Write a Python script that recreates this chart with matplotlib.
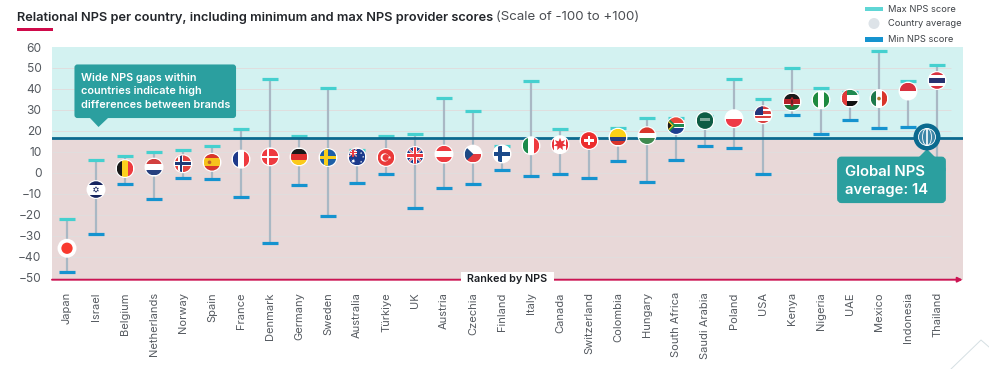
import matplotlib
matplotlib.use('Agg')
import matplotlib.pyplot as plt
import numpy as np
from matplotlib.patches import Rectangle, Ellipse, Polygon, FancyBboxPatch, Circle
from matplotlib.transforms import Affine2D

plt.rcParams['font.family'] = ['Inter', 'DejaVu Sans']

countries = ['Japan', 'Israel', 'Belgium', 'Netherlands', 'Norway', 'Spain', 'France', 'Denmark',
             'Germany', 'Sweden', 'Australia', 'Türkiye', 'UK', 'Austria', 'Czechia', 'Finland',
             'Italy', 'Canada', 'Switzerland', 'Colombia', 'Hungary', 'South Africa', 'Saudi Arabia',
             'Poland', 'USA', 'Kenya', 'Nigeria', 'UAE', 'Mexico', 'Indonesia', 'Thailand']
max_nps = [-22, 6.2, 8, 9.9, 11, 12.6, 21, 44.7, 17.4, 40.4, 11, 17.7, 18.3, 35.7, 29.3, 12.9,
           44, 21, 16, 21.2, 26, 26.3, 27, 44.5, 35, 50, 40.4, 38.4, 58.2, 44, 51.5]
avg_nps = [-36, -8, 2, 2.7, 4.3, 5, 6.5, 7.6, 7.6, 7.3, 7.6, 7.3, 8.3, 8.9, 8.9, 9,
           12.9, 13.4, 15.4, 17, 17.7, 22.5, 24.9, 25.8, 27.7, 33.8, 34.8, 35.6, 35.4, 39, 44]
min_nps = [-47.5, -29.3, -5.5, -12.5, -2.5, -2.9, -11.6, -33.5, -5.9, -20.8, -4.8, -0.8, -16.8,
           -7.1, -5.5, 1.3, -1.6, -0.5, -2.5, 5.6, -4.5, 6.2, 12.9, 12, -0.5, 27.4, 18.7, 25,
           21.4, 22, 2]
global_line = 16.4
y_ticks = [-50, -40, -30, -20, -10, 0, 10, 20, 30, 40, 50, 60]

RED, WHITE, BLUE = '#ee3a3f', '#ffffff', '#1d3f7f'
NAVY, GREEN, YELLOW = '#16245f', '#1e9145', '#fbd11e'
TEAL = '#2b9f9f'

W, H = 989, 369
fig = plt.figure(figsize=(W / 100, H / 100), dpi=100)
left, right, top, bottom = 52, 962.7, 47, 279.7
ax = fig.add_axes([left / W, 1 - bottom / H, (right - left) / W, (bottom - top) / H])
ax.set_xlim(-15 / 29, (right - 67) / 29)
ax.set_ylim(-51, 60)
px = Affine2D().scale(1 / W, -1 / H).translate(0, 1) + fig.transFigure

# background bands and grid
ax.axhspan(global_line, 60, color='#d3f2f1', lw=0, zorder=0)
ax.axhspan(-51, global_line, color='#e8d8d8', lw=0, zorder=0)
ax.hlines(y_ticks[:-1], -0.52, 30.5, color='#e0dede', lw=0.7, zorder=1)

x = np.arange(len(countries))
ax.vlines(x, min_nps, max_nps, color='#a9b8c4', lw=1.6, zorder=2)
ax.hlines(max_nps, x - 0.26, x + 0.26, color='#45d0cf', lw=2.3, zorder=3)
ax.hlines(min_nps, x - 0.26, x + 0.26, color='#1593cf', lw=2.3, zorder=3)
ax.axhline(global_line, color='#0b6a8f', lw=2, zorder=4)


def hb(colors, weights=None):
    w = np.array(weights if weights else [1] * len(colors), float)
    e = 1 - 2 * np.cumsum(np.r_[0, w]) / w.sum()
    return [Rectangle((-1, e[i + 1]), 2, e[i] - e[i + 1], fc=c) for i, c in enumerate(colors)]


def vb(colors, weights=None):
    w = np.array(weights if weights else [1] * len(colors), float)
    e = -1 + 2 * np.cumsum(np.r_[0, w]) / w.sum()
    return [Rectangle((e[i], -1), e[i + 1] - e[i], 2, fc=c) for i, c in enumerate(colors)]


def bg(c):
    return [Rectangle((-1, -1), 2, 2, fc=c)]


def cross(c, t, cx=-0.25):
    return [Rectangle((cx - t, -1), 2 * t, 2, fc=c), Rectangle((-1, -t), 2, 2 * t, fc=c)]


def poly(c, *pts):
    return [Polygon(pts, closed=True, fc=c)]


def dot(c, cx, cy, r):
    return [Circle((cx, cy), r, fc=c)]


def star(c, cx, cy, r, n=5, inner=0.42):
    ang = np.pi / 2 + np.arange(2 * n) * np.pi / n
    rad = np.where(np.arange(2 * n) % 2 == 0, r, r * inner)
    return poly(c, *zip(cx + rad * np.cos(ang), cy + rad * np.sin(ang)))


def union(cx=0, cy=0, s=1):
    def p(*pts):
        return [(cx + s * a, cy + s * b) for a, b in pts]
    out = [Rectangle((cx - s, cy - s), 2 * s, 2 * s, fc='#1a3c8a')]
    out += poly(WHITE, *p((-1, -0.8), (-0.8, -1), (1, 0.8), (0.8, 1)))
    out += poly(WHITE, *p((-1, 0.8), (-0.8, 1), (1, -0.8), (0.8, -1)))
    out += poly(RED, *p((-1, -0.92), (-0.92, -1), (1, 0.92), (0.92, 1)))
    out += poly(RED, *p((-1, 0.92), (-0.92, 1), (1, -0.92), (0.92, -1)))
    out += [Rectangle((cx - 0.3 * s, cy - s), 0.6 * s, 2 * s, fc=WHITE),
            Rectangle((cx - s, cy - 0.3 * s), 2 * s, 0.6 * s, fc=WHITE),
            Rectangle((cx - 0.17 * s, cy - s), 0.34 * s, 2 * s, fc=RED),
            Rectangle((cx - s, cy - 0.17 * s), 2 * s, 0.34 * s, fc=RED)]
    return out


flags = {
    'Japan': bg(WHITE) + dot('#f93a2f', 0, 0, 0.68),
    'Israel': bg(WHITE) + hb([NAVY, WHITE, NAVY], [1, 3, 1])
              + poly(NAVY, (0, 0.4), (0.35, -0.2), (-0.35, -0.2)) + poly(NAVY, (0, -0.4), (0.35, 0.2), (-0.35, 0.2))
              + dot(WHITE, 0, 0, 0.17),
    'Belgium': vb(['#1a1a1a', YELLOW, RED]),
    'Netherlands': hb(['#d2403f', WHITE, '#27407f']),
    'Norway': bg('#e4433f') + cross(WHITE, 0.3) + cross('#1f3a78', 0.16),
    'Spain': hb(['#d8352b', '#f6c21c', '#d8352b'], [1, 2, 1]) + dot('#c0622b', -0.3, 0, 0.22),
    'France': vb(['#1e3a8a', WHITE, RED]),
    'Denmark': bg(RED) + cross(WHITE, 0.16),
    'Germany': hb(['#1a1a1a', '#de2f2f', '#fbc91a']),
    'Sweden': bg('#1d5fa6') + cross('#f8cf1a', 0.2),
    'Australia': bg('#1b3a8c') + union(-0.5, 0.5, 0.5) + star(WHITE, -0.45, -0.5, 0.28, 7)
                 + star(WHITE, 0.5, 0.45, 0.14, 7) + star(WHITE, 0.5, -0.6, 0.14, 7) + star(WHITE, 0.75, 0, 0.14, 7),
    'Türkiye': bg('#ea3a3a') + dot(WHITE, -0.15, 0, 0.5) + dot('#ea3a3a', -0.02, 0, 0.4) + star(WHITE, 0.42, 0, 0.22),
    'UK': union(),
    'Austria': hb([RED, WHITE, RED]),
    'Czechia': hb([WHITE, '#e43b3f']) + poly('#1d4a85', (-1, 1), (0.05, 0), (-1, -1)),
    'Finland': bg(WHITE) + cross('#1b4a8a', 0.26),
    'Italy': vb(['#1b8a4a', WHITE, RED]),
    'Canada': vb(['#e8333a', WHITE, '#e8333a'], [0.55, 2.9, 0.55]) + star('#e8333a', 0, 0.05, 0.78, 7, 0.5)
              + [Rectangle((-0.05, -0.75), 0.1, 0.5, fc='#e8333a')],
    'Switzerland': bg('#ec2d2d') + [Rectangle((-0.17, -0.55), 0.34, 1.1, fc=WHITE), Rectangle((-0.55, -0.17), 1.1, 0.34, fc=WHITE)],
    'Colombia': hb(['#fcd116', '#27407f', '#d8352b'], [2, 1, 1]),
    'Hungary': hb(['#d8352b', WHITE, '#3f8a4f']),
    'South Africa': hb(['#e8473a', WHITE, '#1d3f8f']) + [Rectangle((-1, -0.3), 2, 0.6, fc=WHITE)]
                    + [Rectangle((-1, -0.18), 2, 0.36, fc='#1f8a50')] + poly('#1f8a50', (-1, 1), (0.0, 0), (-1, -1))
                    + poly(YELLOW, (-1, 0.7), (-0.3, 0), (-1, -0.7)) + poly('#1a1a1a', (-1, 0.5), (-0.5, 0), (-1, -0.5)),
    'Saudi Arabia': bg('#0e5c44') + [Rectangle((-0.55, 0.0), 1.1, 0.3, fc='#7fa99a'), Rectangle((-0.45, -0.35), 0.9, 0.08, fc='#a9c6bb')],
    'Poland': hb([WHITE, '#ee3a47']),
    'USA': hb(['#d8403f', WHITE] * 3 + ['#d8403f']) + [Rectangle((-1, -0.05), 1.05, 1.05, fc='#23357a')],
    'Kenya': hb(['#1a1a1a', WHITE, '#b5222a', WHITE, '#1e7a3c'], [5, 0.7, 5, 0.7, 5])
             + [Ellipse((0, 0), 0.42, 1.15, fc='#b5222a')] + [Ellipse((0, 0), 0.12, 0.7, fc='#1a1a1a')],
    'Nigeria': vb(['#1f8a3f', WHITE, '#1f8a3f']),
    'UAE': hb(['#1f8a50', WHITE, '#111111']) + [Rectangle((-1, -1), 0.6, 2, fc='#e23a3a')],
    'Mexico': vb(['#1c7a4c', WHITE, '#d8352b']) + dot('#a9762f', 0, 0, 0.22),
    'Indonesia': hb(['#d8323f', WHITE]),
    'Thailand': hb(['#d8323f', WHITE, '#27316f', WHITE, '#d8323f'], [1, 1, 2, 1, 1]),
}

# flags as round markers sized in pixels, placed from the data values
ux, uy = 8.3 / 29, 8.3 * 111 / (bottom - top)
for i, name in enumerate(countries):
    t = Affine2D().scale(ux, uy).translate(x[i], avg_nps[i]) + ax.transData
    ring = Circle((0, 0), 1.14, fc=WHITE, ec='none', transform=t, zorder=5)
    ax.add_patch(ring)
    clip = Circle((0, 0), 1, fc='none', ec='none', transform=t, zorder=6)
    ax.add_patch(clip)
    for p in flags[name]:
        p.set_transform(t)
        p.set_edgecolor('none')
        p.set_zorder(6)
        ax.add_patch(p)
        p.set_clip_path(clip)

ax.set_yticks(y_ticks)
ax.set_xticks(x)
ax.set_xticklabels(countries, rotation=90, color='#555a60', va='top', ha='center')
ax.tick_params(axis='y', length=0, labelsize=8.6, labelcolor='#555a60', pad=7.5)
ax.tick_params(axis='x', length=0, labelsize=8.0, labelcolor='#555a60', pad=9)
for s in ax.spines.values():
    s.set_visible(False)
ax.patch.set_visible(False)


def fig_add(p):
    p.set_transform(px)
    p.set_clip_on(False)
    fig.add_artist(p)
    return p


def ftext(xp, yp, s, **kw):
    kw.setdefault('va', 'center')
    kw.setdefault('ha', 'left')
    return fig.text(xp / W, 1 - yp / H, s, **kw)


# bottom axis line with the label sitting on it
ax.annotate('', xy=(right, bottom), xytext=(left, bottom), xycoords=px, textcoords=px,
            arrowprops=dict(arrowstyle='-|>', color='#cc1452', lw=1.4, mutation_scale=7, shrinkA=0, shrinkB=0),
            zorder=7, annotation_clip=False)
fig_add(Rectangle((461, 272), 93, 14, fc='white', ec='none', zorder=8))
ftext(507.5, 279.5, 'Ranked by NPS', fontsize=7.8, fontweight='semibold', color='#1c1f24', ha='center', zorder=9)

# title
ftext(17, 17.5, 'Relational NPS per country, including minimum and max NPS provider scores',
      fontsize=9.22, fontweight='semibold', color='#23262b')
ftext(496, 17.5, '(Scale of -100 to +100)', fontsize=9.55, color='#4a4d52')
fig_add(Rectangle((17, 28), 36, 3, fc='#cf0a4a', ec='none'))

# legend
fig_add(Rectangle((865, 6.7), 18, 4.6, fc='#5fd6d5', ec='none'))
fig_add(Circle((874, 23.5), 5.5, fc='#dde3e8', ec='none'))
fig_add(Rectangle((865, 37), 18, 4.6, fc='#1593cf', ec='none'))
for yy, s in [(9.5, 'Max NPS score'), (23.5, 'Country average'), (39.5, 'Min NPS score')]:
    ftext(888.5, yy, s, fontsize=6.7, color='#3e4247')

# left callout
fig_add(FancyBboxPatch((75.5, 65.5), 159.5, 51.5, boxstyle='round,pad=0,rounding_size=2', fc=TEAL, ec=TEAL, lw=1.5, zorder=8))
fig_add(Polygon([(90, 118), (108, 118), (98.5, 127)], fc=TEAL, ec='none', zorder=8))
ftext(81, 91.5, 'Wide NPS gaps within\ncountries indicate high\ndifferences between brands', fontsize=7.8, fontweight='semibold',
      color='white', linespacing=1.38, zorder=9)

# global marker and its callout
gx, gy = 927, 137
fig_add(Circle((gx, gy), 13.5, fc='#0b6a8f', ec='none', zorder=9))
fig_add(Circle((gx, gy), 8.5, fc='#3d86a8', ec='white', lw=0.6, zorder=10))
for r_w in [4.5, 0.1]:
    fig_add(Ellipse((gx, gy), 2 * r_w, 17, fc='none', ec='white', lw=0.6, zorder=10))
for dy, hw in [(0, 8.5), (-4, 7.5), (4, 7.5)]:
    fig_add(Rectangle((gx - hw, gy + dy - 0.25), 2 * hw, 0.5, fc='white', ec='none', zorder=10))
fig_add(FancyBboxPatch((838.5, 158), 106, 43.7, boxstyle='round,pad=0,rounding_size=3', fc=TEAL, ec=TEAL, lw=2, zorder=8))
fig_add(Polygon([(918, 158), (936, 158), (927, 149), (927, 149)], fc=TEAL, ec='none', zorder=8))
ftext(845, 181, 'Global NPS\naverage: 14', fontsize=10.7, fontweight='semibold', color='white', linespacing=1.32, zorder=9)

# corner decoration
fig.add_artist(plt.Line2D([951, 981, 989], [369, 340, 347], transform=px, color='#d5dfe3', lw=0.7))

fig.savefig('out.png', dpi=100)
